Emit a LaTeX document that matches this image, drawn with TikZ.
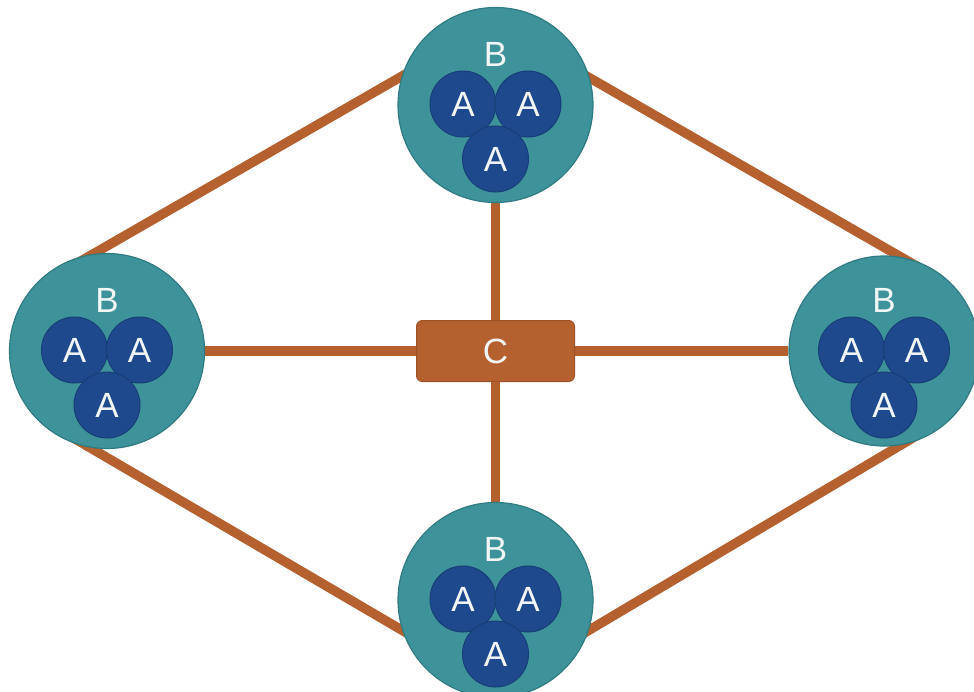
\documentclass[tikz,border=0pt]{standalone}
\usepackage{fontspec}
\setmainfont{Liberation Sans}
\usetikzlibrary{backgrounds}

\definecolor{groupteal}{HTML}{3E929A}
\definecolor{groupedge}{HTML}{2F7B82}
\definecolor{unitblue}{HTML}{1E4A8D}
\definecolor{unitedge}{HTML}{173E78}
\definecolor{linkorange}{HTML}{B5612F}
\definecolor{hubedge}{HTML}{9E5226}
\definecolor{labelwhite}{HTML}{F2F6F6}

\tikzset{
  group/.style={circle, fill=groupteal, draw=groupedge, line width=1.2pt,
    minimum size=195pt, inner sep=0pt},
  unit/.style={circle, fill=unitblue, draw=unitedge, line width=1pt,
    minimum size=66pt, inner sep=0pt, text=labelwhite,
    font=\fontsize{35}{35}\selectfont},
  glabel/.style={inner sep=0pt, text=labelwhite, font=\fontsize{35}{35}\selectfont},
  hub/.style={rounded corners=6pt, fill=linkorange, draw=hubedge, line width=1pt,
    minimum width=158pt, minimum height=61pt, inner sep=0pt, text=labelwhite,
    font=\fontsize{35}{35}\selectfont},
  link/.style={linkorange, line width=9.5pt},
  reach/.style={shorten <=-30pt, shorten >=-30pt},
}

% one group: outer circle, its label and three units
% #1 name, #2 x, #3 y, #4 diameter
\newcommand{\groupcluster}[4]{%
  \node[group, minimum size=#4] (#1) at (#2,#3) {};
  \node[glabel] (#1-lab) at (#2,#3-51) {B};
  \node[unit] (#1-a1) at (#2-32.5,#3-1) {A};
  \node[unit] (#1-a2) at (#2+32.5,#3-1) {A};
  \node[unit] (#1-a3) at (#2,#3+54) {A};
}

\begin{document}
\begin{tikzpicture}[x=1pt, y=-1pt]
  \useasboundingbox (0,0) rectangle (974,691);
  \clip (0,0) rectangle (974,691);

  \groupcluster{top}{495.5}{105}{195pt}
  \groupcluster{left}{107}{351}{195pt}
  \groupcluster{right}{884}{351}{190pt}
  \groupcluster{bottom}{495.5}{600}{195pt}

  \node[hub] (hub) at (495.5,351) {C};

  \begin{scope}[on background layer]
    % spokes from the hub
    \draw[link] (hub) -- (top);
    \draw[link] (hub) -- (bottom);
    \draw[link] (hub) -- (left);
    \draw[link] (hub) -- (right);
    % ring between neighbouring groups, ends tucked under the circles
    \draw[link, reach] (left.98.5) -- (top.163.6);
    \draw[link, reach] (top.16.4) -- (right.80);
    \draw[link, reach] (left.260) -- (bottom.198);
    \draw[link, reach] (bottom.-18) -- (right.-80);
  \end{scope}
\end{tikzpicture}
\end{document}
